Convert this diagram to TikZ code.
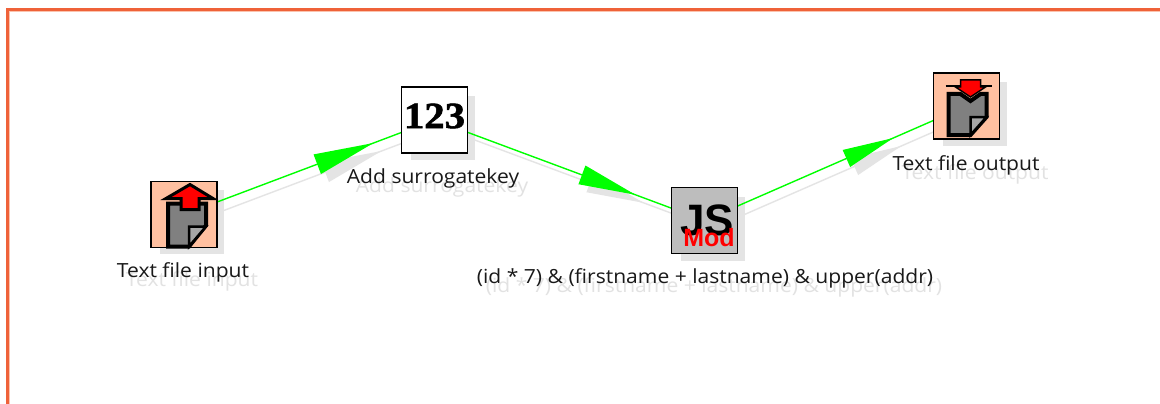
\documentclass[tikz,border=0pt]{standalone}
\usepackage{fontspec}
\setmainfont{Open Sans}
\newfontfamily\serifb[BoldFeatures={FakeBold=1.5}]{Liberation Serif}
\newfontfamily\sansb{Liberation Sans}
\usetikzlibrary{decorations.markings,backgrounds}
\definecolor{frameor}{HTML}{EF6239}
\definecolor{framelt}{HTML}{FBC3AE}
\definecolor{shadowc}{HTML}{E4E4E4}
\definecolor{textshadow}{HTML}{E2E2E2}
\definecolor{flow}{HTML}{00FF00}
\definecolor{peach}{HTML}{FFC0A0}
\definecolor{pagegray}{HTML}{808080}
\definecolor{foldgray}{HTML}{A6A6A6}
\definecolor{jsgray}{HTML}{BDBDBD}
\definecolor{redarrow}{HTML}{FF0000}
\tikzset{
  x=1pt,y=-1pt,
  iconbox/.style={draw=black,line width=1.3pt,minimum size=66pt,inner sep=0pt,outer sep=0pt,anchor=north west},
  boxshadow/.style={fill=shadowc,minimum size=64pt,inner sep=0pt,outer sep=0pt,anchor=north west},
  steplabel/.style={font=\fontsize{19.5}{21}\selectfont,text=black!90,inner sep=0pt,anchor=base,xscale=1.08},
  labelshadow/.style={font=\fontsize{19.5}{21}\selectfont,text=textshadow,inner sep=0pt,anchor=base,xscale=1.08},
  flowedge/.style n args={4}{draw=#4,line width=1.4pt,postaction={decorate},
    decoration={markings,mark=at position #1 with {\fill[#4] (0,0) -- (-#2,#3) -- (-#2,-#3) -- cycle;}}},
  iconline/.style={draw=black,line width=4pt,line join=miter},
}
\begin{document}
\begin{tikzpicture}
\useasboundingbox (0,0) rectangle (1160,404);
% frame
\begin{scope}[on background layer]
\fill[white] (0,0) rectangle (1160,404);
\fill[framelt] (9.3,11.3) rectangle (10.3,404);
\fill[framelt] (9.3,11.3) rectangle (1160,12);
\fill[frameor] (6,8) rectangle (1160,11.3);
\fill[frameor] (6,8) rectangle (9.3,404);
\end{scope}
% steps
\node[iconbox,fill=peach] (in) at (151,181.5) {};
\node[iconbox,fill=white] (key) at (401.5,87) {};
\node[iconbox,fill=jsgray] (js) at (671.5,187.5) {};
\node[iconbox,fill=peach] (out) at (933.5,73) {};
% step shadows and connectors
\begin{scope}[on background layer]
\node[boxshadow] (ins) at (160,190) {};
\node[boxshadow] (keys) at (410.5,96) {};
\node[boxshadow] (jss) at (680.5,196.5) {};
\node[boxshadow] (outs) at (942.5,82) {};
\path[flowedge={0.756}{60pt}{10.5pt}{shadowc},transform canvas={shift={(8pt,-8pt)}}] (in.center) -- (key.center);
\path[flowedge={0.744}{57pt}{10pt}{shadowc},transform canvas={shift={(8pt,-8pt)}}] (key.center) -- (js.center);
\path[flowedge={0.72}{51pt}{9.3pt}{shadowc},transform canvas={shift={(8pt,-8pt)}}] (js.center) -- (out.center);
\path[flowedge={0.756}{60pt}{10.5pt}{flow}] (in.center) -- (key.center);
\path[flowedge={0.744}{57pt}{10pt}{flow}] (key.center) -- (js.center);
\path[flowedge={0.72}{51pt}{9.3pt}{flow}] (js.center) -- (out.center);
\end{scope}
% input icon
\begin{scope}[shift={(151,181.5)}]
\filldraw[iconline,fill=pagegray] (17,22) -- (55,22) -- (55,44) -- (38,65) -- (17,65) -- cycle;
\filldraw[iconline,line width=2.5pt,fill=foldgray] (38,45) -- (55,45) -- (38,65) -- cycle;
\filldraw[iconline,line width=3pt,fill=redarrow] (39,3) -- (62,17) -- (48,17) -- (48,28) -- (30,28) -- (30,17) -- (15,17) -- cycle;
\end{scope}
% output icon
\begin{scope}[shift={(933.5,73)}]
\filldraw[iconline,fill=pagegray] (15,21) -- (27,21) -- (37,28) -- (47,21) -- (53,21) -- (53,44) -- (37,62) -- (15,62) -- cycle;
\filldraw[iconline,line width=2.5pt,fill=foldgray] (37,44) -- (53,44) -- (37,62) -- cycle;
\draw[black,line width=2.5pt] (12,13) -- (58,13);
\filldraw[black,line width=1.5pt,fill=redarrow] (27,7) -- (47,7) -- (47,14) -- (52,14) -- (37,24) -- (22,14) -- (27,14) -- cycle;
\end{scope}
% glyphs
\node[inner sep=0pt,font=\serifb\bfseries\fontsize{37}{37}\selectfont,xscale=1.1] (keyt) at (434.5,116) {123};
\node[inner sep=0pt,font=\sansb\bfseries\fontsize{44}{44}\selectfont] (jst) at (707,220) {JS};
\node[inner sep=0pt,font=\sansb\bfseries\fontsize{25}{25}\selectfont,text=redarrow] (jsm) at (709,238) {Mod};
% labels
\begin{scope}[on background layer]
\node[labelshadow] (l1s) at (192,286) {Text file input};
\node[labelshadow] (l2s) at (442,192) {Add surrogatekey};
\node[labelshadow] (l3s) at (714,292) {(id * 7) \& (firstname + lastname) \& upper(addr)};
\node[labelshadow] (l4s) at (975,179) {Text file output};
\end{scope}
\node[steplabel] (l1) at (183,277) {Text file input};
\node[steplabel] (l2) at (433,183) {Add surrogatekey};
\node[steplabel] (l3) at (705,283) {(id * 7) \& (firstname + lastname) \& upper(addr)};
\node[steplabel] (l4) at (966,170) {Text file output};
\end{tikzpicture}
\end{document}
